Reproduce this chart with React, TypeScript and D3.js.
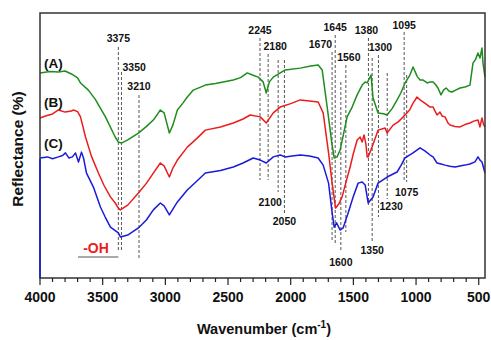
import React from 'react';
import * as d3 from 'd3';

// spectra: [wavenumber cm-1, reflectance (arb. %)]
const specA: [number, number][] = [
  [4000, 77.4], [3920, 77.9], [3853, 77.7], [3800, 78.1], [3749, 77.0], [3700, 75.5], [3677, 73.6],
  [3614, 70.9], [3560, 67.5], [3478, 60.8], [3400, 53.2], [3375, 51.3], [3350, 50.9], [3300, 52.1],
  [3215, 54.7], [3150, 57.2], [3096, 59.6], [3060, 62.0], [3040, 63.4], [3010, 62.3], [2968, 54.7],
  [2940, 57.7], [2904, 63.4], [2860, 66.0], [2825, 68.3], [2777, 70.9], [2681, 72.8], [2600, 73.4],
  [2458, 74.7], [2400, 75.6], [2347, 77.4], [2300, 76.5], [2259, 75.8], [2220, 74.0], [2195, 69.8],
  [2170, 74.0], [2139, 75.8], [2044, 78.5], [1924, 79.2], [1840, 80.0], [1781, 80.4], [1749, 78.5],
  [1709, 64.5], [1670, 50.2], [1653, 45.3], [1630, 45.7], [1606, 48.3], [1580, 54.0], [1550, 60.8],
  [1510, 64.5], [1470, 69.1], [1430, 72.8], [1406, 74.0], [1390, 73.6], [1359, 76.6], [1343, 67.9],
  [1303, 62.3], [1260, 62.0], [1231, 61.5], [1190, 64.0], [1151, 67.2], [1120, 70.0], [1088, 73.6],
  [1050, 76.5], [1024, 79.6], [990, 76.0], [968, 74.7], [944, 74.7], [910, 73.6], [888, 74.0],
  [864, 74.0], [845, 73.0], [825, 71.7], [801, 69.1], [780, 71.0], [760, 71.7], [735, 70.5],
  [713, 70.2], [680, 71.0], [649, 71.7], [610, 72.1], [570, 72.8], [546, 81.1], [525, 82.5],
  [506, 84.9], [490, 83.0], [474, 86.8], [466, 81.1], [450, 75.8],
];

const specB: [number, number][] = [
  [4000, 60.4], [3950, 61.2], [3900, 61.9], [3853, 63.4], [3800, 62.6], [3750, 63.0], [3733, 63.4],
  [3700, 62.8], [3677, 60.8], [3637, 53.2], [3590, 46.0], [3534, 39.6], [3490, 35.0], [3438, 30.6],
  [3400, 28.3], [3375, 26.4], [3359, 25.7], [3300, 27.5], [3215, 32.1], [3150, 35.8], [3096, 39.6],
  [3040, 43.4], [3010, 42.3], [2968, 38.1], [2940, 41.5], [2904, 44.5], [2825, 49.4], [2750, 52.6],
  [2681, 55.8], [2560, 57.0], [2458, 58.5], [2380, 60.0], [2323, 61.5], [2243, 60.8], [2195, 58.5],
  [2139, 62.3], [2084, 64.5], [2000, 65.8], [1924, 67.2], [1850, 66.8], [1781, 66.4], [1741, 62.3],
  [1698, 47.2], [1670, 36.0], [1642, 26.4], [1615, 28.0], [1590, 30.6], [1560, 36.0], [1526, 41.9],
  [1500, 47.0], [1470, 52.1], [1446, 53.2], [1430, 51.3], [1415, 54.0], [1400, 50.5], [1390, 45.7],
  [1382, 45.7], [1351, 49.4], [1303, 55.8], [1247, 56.6], [1231, 54.7], [1183, 57.7], [1140, 59.0],
  [1088, 61.5], [1050, 63.5], [1024, 66.0], [992, 68.3], [968, 67.2], [930, 66.0], [888, 64.5],
  [864, 64.5], [833, 61.5], [809, 62.6], [790, 61.0], [769, 60.8], [745, 58.5], [729, 57.7],
  [690, 57.2], [649, 57.0], [610, 57.9], [570, 58.5], [540, 59.2], [506, 59.6], [490, 57.0],
  [474, 60.4], [462, 58.0], [450, 57.0],
];

const specC: [number, number][] = [
  [4000, 45.3], [3940, 45.7], [3900, 45.0], [3853, 45.7], [3820, 46.2], [3797, 47.2], [3770, 45.3],
  [3741, 45.7], [3717, 47.2], [3693, 43.8], [3669, 47.5], [3653, 45.3], [3629, 39.6], [3574, 34.3],
  [3518, 26.8], [3480, 23.0], [3438, 19.2], [3375, 17.0], [3359, 15.5], [3300, 16.2], [3215, 18.9],
  [3150, 22.0], [3096, 25.7], [3040, 28.3], [3010, 27.2], [2968, 23.8], [2940, 26.0], [2904, 28.7],
  [2825, 33.2], [2750, 36.5], [2681, 39.6], [2560, 40.6], [2458, 41.9], [2380, 43.4], [2299, 45.3],
  [2243, 44.5], [2195, 43.4], [2139, 45.7], [2084, 46.4], [2044, 45.7], [1990, 46.0], [1924, 46.4],
  [1850, 46.0], [1781, 45.3], [1741, 42.6], [1698, 35.8], [1669, 24.5], [1653, 19.2], [1634, 20.8],
  [1606, 18.1], [1582, 18.9], [1542, 24.5], [1502, 30.6], [1462, 35.8], [1430, 36.2], [1406, 35.1],
  [1382, 28.3], [1343, 30.6], [1303, 35.8], [1231, 38.1], [1151, 40.0], [1120, 42.5], [1088, 45.3],
  [1024, 47.2], [968, 49.1], [930, 48.0], [888, 46.4], [864, 45.7], [833, 43.4], [800, 43.0],
  [769, 42.6], [730, 42.2], [689, 41.9], [650, 42.3], [610, 42.6], [570, 43.0], [530, 43.8],
  [506, 45.7], [490, 44.5], [474, 43.8], [450, 39.6],
];

const seriesNames = ['(A)', '(B)', '(C)'];
const seriesColors = ['#1e8c1e', '#ec1c1c', '#1a1ad8'];

// marked peaks
const peaks = [3375, 3350, 3210, 2245, 2180, 2100, 2050, 1670, 1645, 1600, 1560, 1380, 1350, 1300, 1230, 1095, 1075];
const xTicks = [4000, 3500, 3000, 2500, 2000, 1500, 1000, 500];

// per-peak layout: [line top, line bottom, label dx, label baseline, anchor]
const peakLayout: Record<number, [number, number, number, number, string]> = {
  3375: [47, 250, 0, 42, 'middle'],
  3350: [72, 250, 1, 71, 'start'],
  3210: [95, 258, 0, 90, 'middle'],
  2245: [38, 180, 0, 34, 'middle'],
  2180: [54, 180, 7, 50, 'middle'],
  2100: [60, 192, -8, 206, 'middle'],
  2050: [60, 215, 0, 225, 'middle'],
  1670: [52, 242, 0, 48, 'end'],
  1645: [35, 243, 0, 31, 'middle'],
  1600: [82, 252, 0, 266, 'middle'],
  1560: [65, 232, 3, 61, 'middle'],
  1380: [38, 205, -2, 34, 'middle'],
  1350: [58, 242, 0, 254, 'middle'],
  1300: [55, 217, 2, 51, 'middle'],
  1230: [73, 199, 4, 210, 'middle'],
  1095: [32, 182, 0, 29, 'middle'],
  1075: [75, 182, 0, 196, 'middle'],
};

const W = 491;
const H = 340;
const margin = { top: 13, right: 6, bottom: 62, left: 40 };

export default function App() {
  const x = d3.scaleLinear().domain([4000, 450]).range([margin.left, W - margin.right]);
  const y = d3.scaleLinear().domain([0, 100]).range([H - margin.bottom, margin.top]);
  const line = d3.line<[number, number]>().x(d => x(d[0])).y(d => y(d[1]));
  const bottom = H - margin.bottom;
  const minor = d3.range(4000, 449, -100);
  const font = 'Liberation Sans, Arial, sans-serif';

  return (
    <svg width={W} height={H} style={{ position: 'absolute', left: 0, top: 0, background: '#fff' }} fontFamily={font}>
      {/* peak markers */}
      {peaks.map(p => {
        const [t, b, dx, ty, anchor] = peakLayout[p];
        return (
          <g key={p}>
            <line x1={x(p)} x2={x(p)} y1={t} y2={b} stroke="#555" strokeWidth={1} strokeDasharray="3,2" />
            <text x={x(p) + dx} y={ty} textAnchor={anchor} fontSize={10.5} fontWeight="bold" fill="#111">{p}</text>
          </g>
        );
      })}

      {[specA, specB, specC].map((s, i) => (
        <path key={i} d={line(s) || ''} fill="none" stroke={seriesColors[i]} strokeWidth={1.5} strokeLinejoin="round" />
      ))}

      {/* frame */}
      <rect x={margin.left} y={margin.top} width={W - margin.left - margin.right} height={bottom - margin.top}
        fill="none" stroke="#333" strokeWidth={1.5} />
      <line x1={margin.left} x2={margin.left} y1={y(45)} y2={bottom} stroke={seriesColors[2]} strokeWidth={1.5} />

      {/* x ticks */}
      {minor.map(v => (
        <line key={v} x1={x(v)} x2={x(v)} y1={bottom} y2={bottom + (v % 500 === 0 ? 7 : 4)} stroke="#222" strokeWidth={1.2} />
      ))}
      {xTicks.map(v => (
        <text key={v} x={x(v)} y={302} textAnchor="middle" fontSize={14} fontWeight="bold" fill="#111">{v}</text>
      ))}

      {/* series labels */}
      {seriesNames.map((n, i) => (
        <text key={n} x={44} y={[68, 107, 148][i]} fontSize={13.5} fontWeight="bold" fill="#111">{n}</text>
      ))}

      {/* -OH band */}
      <text x={96} y={253} textAnchor="middle" fontSize={14} fontWeight="bold" fill={seriesColors[1]}>-OH</text>
      <line x1={78} x2={x(3375)} y1={257} y2={257} stroke="#555" strokeWidth={1} />

      {/* axis titles */}
      <text x={264} y={334} textAnchor="middle" fontSize={14.5} fontWeight="bold" fill="#111">
        Wavenumber (cm<tspan dy={-6} fontSize={10}>-1</tspan><tspan dy={6}>)</tspan>
      </text>
      <text transform="translate(23,149) rotate(-90)" textAnchor="middle" fontSize={15.5} fontWeight="bold" fill="#111">
        Reflectance (%)
      </text>
    </svg>
  );
}
